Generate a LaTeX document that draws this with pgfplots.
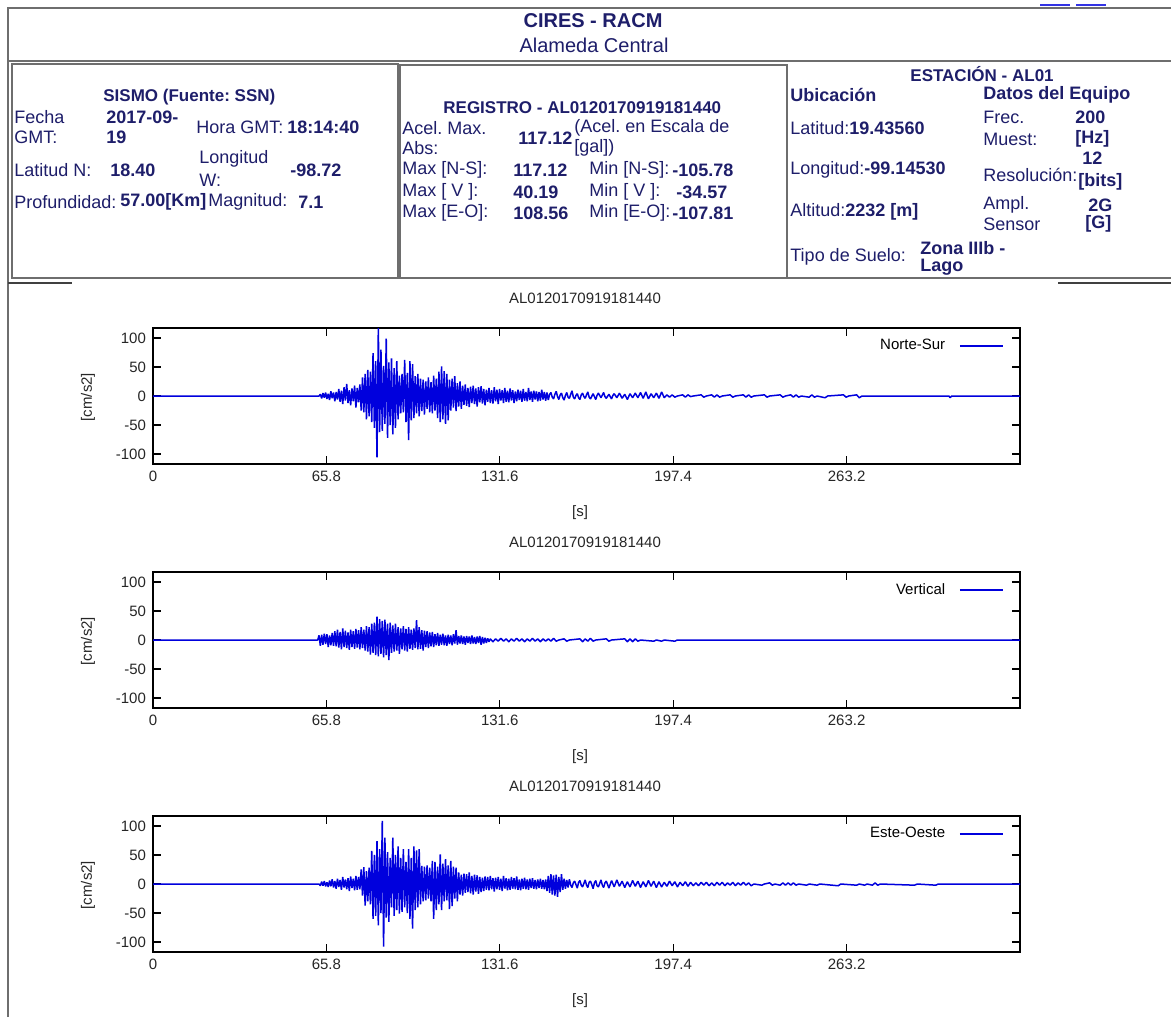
\documentclass[border=0pt]{standalone}
\usepackage{fontspec}
\setmainfont{Liberation Sans}
\usepackage{pgfplots}
\pgfplotsset{compat=1.18}
\definecolor{navy}{HTML}{1E1E6A}
\definecolor{trace}{HTML}{0000DD}
\definecolor{frame}{HTML}{6E6E6E}
\tikzset{
  hd/.style={anchor=west, inner sep=0pt, text=navy, font=\fontsize{9}{10}\selectfont},
  hb/.style={hd, font=\fontsize{9}{10}\selectfont\bfseries},
  hs/.style={hd, font=\fontsize{8.5}{10}\selectfont\bfseries},
  pl/.style={inner sep=0pt, text=black!85, font=\fontsize{7.5}{9}\selectfont},
}
\pgfplotsset{
  seis/.style={
    scale only axis, width=433.5pt, height=68pt, anchor=south west,
    xmin=0, xmax=329, ymin=-117.12, ymax=117.12,
    xtick={0,65.8,131.6,197.4,263.2}, xticklabels={0,65.8,131.6,197.4,263.2},
    ytick={-100,-50,0,50,100},
    tick align=inside, major tick length=4pt,
    axis line style={line width=0.65pt},
    tick style={line width=0.6pt, black},
    tick label style={font=\fontsize{7.5}{9}\selectfont, text=black!85},
    /pgf/number format/assume math mode=true,
    legend plot pos=right, legend cell align=right,
    legend image code/.code={\draw[##1] (0pt,0pt) -- (21.5pt,0pt);},
    legend style={at={(rel axis cs:0.984,0.965)}, anchor=north east, draw=none, fill=none,
      font=\fontsize{7.5}{9}\selectfont, inner sep=1pt, column sep=5pt},
  },
  tr/.style={trace, line width=0.75pt, line join=bevel},
}
\begin{document}
\frenchspacing
\begin{tikzpicture}
\begin{scope}[x=0.5pt, y=-0.5pt]
\fill[white] (0,0) rectangle (1171,1017);
\path[use as bounding box] (0,0) rectangle (1171,1017);
% frames
\draw[frame, line width=1.4pt] (8,1017) -- (8,8) -- (1171,8);
\draw[frame, line width=1.4pt] (8,61) -- (1171,61);
\draw[frame, line width=1.1pt] (12,64) rectangle (398,278);
\draw[frame, line width=1.1pt] (400,65) rectangle (787,278);
\draw[frame, line width=1.1pt] (787,278) -- (1171,278);
\draw[black!75, line width=1.3pt] (8,283) -- (72,283);
\draw[black!75, line width=1.3pt] (1058,283) -- (1171,283);
\draw[trace!80!white, line width=1pt] (1040,5) -- (1070,5) (1076,5) -- (1106,5);
% title
\node[hb, anchor=center, font=\fontsize{10}{12}\selectfont\bfseries] at (593,21) {CIRES - RACM};
\node[hd, anchor=center, font=\fontsize{10}{12}\selectfont] at (594,45) {Alameda Central};
% sismo
\node[hs] at (103,97) {SISMO (Fuente: SSN)};
\node[hd] at (14,117) {Fecha};
\node[hd] at (14,137) {GMT:};
\node[hb] at (106,117) {2017-09-};
\node[hb] at (106,137) {19};
\node[hd] at (196,127) {Hora GMT:};
\node[hb] at (287,127) {18:14:40};
\node[hd] at (14,170) {Latitud N:};
\node[hb] at (110,170) {18.40};
\node[hd] at (199,159) {Longitud};
\node[hd] at (199,180) {W:};
\node[hb] at (290,170) {-98.72};
\node[hd] at (14,202) {Profundidad:};
\node[hb] at (120,202) {57.00[Km]};
\node[hd] at (208,202) {Magnitud:};
\node[hb] at (298,202) {7.1};
% registro
\node[hs] at (443,108) {REGISTRO - AL0120170919181440};
\node[hd] at (402,128) {Acel. Max.};
\node[hd] at (402,148) {Abs:};
\node[hb] at (518,138) {117.12};
\node[hd] at (574,128) {(Acel. en Escala de};
\node[hd] at (574,148) {[gal])};
\node[hd] at (402,170) {Max [N-S]:};
\node[hb] at (513,170) {117.12};
\node[hd] at (589,170) {Min [N-S]:};
\node[hb] at (672,170) {-105.78};
\node[hd] at (402,192) {Max [ V ]:};
\node[hb] at (513,192) {40.19};
\node[hd] at (589,192) {Min [ V ]:};
\node[hb] at (676,192) {-34.57};
\node[hd] at (402,213) {Max [E-O]:};
\node[hb] at (513,213) {108.56};
\node[hd] at (589,213) {Min [E-O]:};
\node[hb] at (672,213) {-107.81};
% estacion
\node[hs] at (910,74) {ESTACIÓN - AL01};
\node[hb] at (790,95) {Ubicación};
\node[hb] at (983,95) {Datos del Equipo};
\node[hd] at (790,128) {Latitud:\textbf{19.43560}};
\node[hd] at (983,117) {Frec.};
\node[hd] at (983,139) {Muest:};
\node[hb] at (1075,117) {200};
\node[hb] at (1075,139) {[Hz]};
\node[hd] at (790,170) {Longitud:\textbf{-99.14530}};
\node[hd] at (983,175) {Resolución:};
\node[hb] at (1082,158) {12};
\node[hb] at (1078,182) {[bits]};
\node[hd] at (790,212) {Altitud:\textbf{2232 [m]}};
\node[hd] at (983,205) {Ampl.};
\node[hd] at (983,224) {Sensor};
\node[hb] at (1088,205) {2G};
\node[hb] at (1085,224) {[G]};
\node[hd] at (790,257) {Tipo de Suelo:};
\node[hb] at (920,248) {Zona IIIb -};
\node[hb] at (920,267) {Lago};
% plot texts
\foreach \dy in {0,244,488} {
  \node[pl] at (585,298+\dy) {AL0120170919181440};
  \node[pl] at (580,513+\dy) {[s]};
  \node[pl, rotate=90] at (88,397+\dy) {[cm/s2]};
}
\end{scope}

% Norte-Sur
\begin{axis}[seis, at={(76.5pt,-232pt)}]
\addplot[tr] coordinates {
(0,0)(63,0)
(63.5,3)(64,-4)(64.5,5)(65,-3)(65.5,6)(66,-5)(66.5,4)(67,-7)(67.5,8)(68,-4)(68.5,6)(69,-9)(69.5,7)(70,-6)
(70.5,12)(71,-10)(71.5,9)(72,-14)(72.5,15)(73,-8)(73.5,21)(74,-12)(74.5,10)(75,-16)(75.5,13)(76,-9)(76.5,18)(77,-20)
(77.5,14)(78,-11)(78.5,20)(79,-25)(79.5,32)(80,-28)(80.5,38)(81,-40)(81.5,45)(82,-35)(82.5,42)(83,-45)(83.5,74)(84,-55)
(84.5,60)(85,-105.78)(85.5,117.12)(86,-62)(86.5,80)(87,-60)(87.5,52)(88,-48)(88.5,99)(89,-72)(89.5,58)(90,-50)(90.5,65)(91,-66)
(91.5,48)(92,-55)(92.5,60)(93,-40)(93.5,35)(94,-30)(94.5,38)(95,-28)(95.5,62)(96,-45)(96.5,40)(97,-76)(97.5,60)(98,-42)
(98.5,55)(99,-38)(99.5,34)(100,-30)(100.5,38)(101,-35)(101.5,30)(102,-26)(102.5,28)(103,-32)(103.5,25)(104,-22)(104.5,32)(105,-28)
(105.5,24)(106,-30)(106.5,35)(107,-25)(107.5,30)(108,-38)(108.5,42)(109,-45)(109.5,51)(110,-40)(110.5,43)(111,-48)(111.5,38)(112,-42)
(112.5,28)(113,-25)(113.5,30)(114,-20)(114.5,34)(115,-26)(115.5,22)(116,-18)(116.5,25)(117,-22)(117.5,18)(118,-15)(118.5,20)(119,-17)
(119.5,14)(120,-19)(120.5,16)(121,-12)(121.5,18)(122,-14)(122.5,13)(123,-18)(123.5,15)(124,-11)(124.5,17)(125,-13)(125.5,12)(126,-16)
(126.5,11)(127,-10)(127.5,14)(128,-12)(128.5,10)(129,-13)(129.5,15)(130,-9)(130.5,11)(131,-14)(131.5,12)(132,-8)(132.5,10)(133,-12)
(133.5,14)(134,-10)(134.5,9)(135,-11)(135.5,13)(136,-8)(136.5,10)(137,-12)(137.5,8)(138,-9)(138.5,11)(139,-7)(139.5,9)(140,-10)
(140.5,12)(141,-8)(141.5,7)(142,-9)(142.5,14)(143,-7)(143.5,8)(144,-10)(144.5,9)(145,-6)(145.5,8)(146,-9)(146.5,7)(147,-8)
(147.5,11)(148,-6)(148.5,7)(149,-8)(149.5,6)(150,-7)
(150.5,3)(151,6)(151.5,-2)(152,-5)(152.5,3)(153,8)(153.5,-1)(154,-6)(154.5,2)(155,5)(155.5,-3)(156,-7)(156.5,1)(157,6)(157.5,-2)(158,-4)
(158.5,3)(159,9)(159.5,-2)(160,-5)(160.5,1)(161,4)(161.5,-3)(162,-6)(162.5,2)(163,5)(163.5,-1)(164,-4)(164.5,2)(165,7)(165.5,-2)(166,-5)
(167,4)(168,-6)(168.5,1)(169,5)(170,-3)(171,6)(171.5,-1)(172,-4)(173,3)(174,-5)(174.5,1)(175,4)(176,-3)(177,5)(178,-4)(179,3)(180,-6)(181,4)(182,-3)
(183,5)(184,-3)(185,6)(186,-4)(187,7)(188,-5)(189,4)(190,-3)(191,5)(192,-4)(193,7)(194,-3)
(195,2)(196,-2)(197,2)(198,-2)(199,0)(201,2)(202,-2)(203,2)(204,-1)(205,0)(208,2)(209,-2)(210,0)(212,2)(213,-2)(214,2)(215,-2)
(216,0)(219,2)(220,-2)(221,0)(224,2)(225,-2)(226,2)(227,-2)(228,0)(232,2)(233,-2)(234,0)(238,2)(239,-2)(240,0)
(242,2)(243,-2)(244,2)(245,-2)(246,0)(249,-2)(250,2)(251,-2)(252,0)(255,-3)(256,0)(262,2)(263,-2)(264,0)(267,2)(268,-3)(269,0)
(302,0)(302.5,-3)(303,0)(329,0)
};
\addlegendentry{Norte-Sur}
\end{axis}

% Vertical
\begin{axis}[seis, at={(76.5pt,-354pt)}]
\addplot[tr] coordinates {
(0,0)(62.5,0)
(63,8)(63.5,-10)(64,9)(64.5,-8)(65,11)(65.5,-7)(66,10)(66.5,-12)(67,8)(67.5,-9)(68,12)(68.5,-10)(69,15)(69.5,-11)
(70,18)(70.5,-13)(71,14)(71.5,-16)(72,20)(72.5,-12)(73,16)(73.5,-14)(74,13)(74.5,-17)(75,18)(75.5,-12)(76,15)(76.5,-15)
(77,19)(77.5,-13)(78,17)(78.5,-16)(79,22)(79.5,-14)(80,18)(80.5,-18)(81,24)(81.5,-20)(82,22)(82.5,-25)(83,28)(83.5,-22)
(84,30)(84.5,-26)(85,40.19)(85.5,-28)(86,36)(86.5,-24)(87,33)(87.5,-30)(88,35)(88.5,-26)(89,28)(89.5,-34.57)(90,30)(90.5,-22)
(91,25)(91.5,-20)(92,28)(92.5,-18)(93,22)(93.5,-24)(94,20)(94.5,-16)(95,24)(95.5,-18)(96,19)(96.5,-20)(97,22)(97.5,-15)
(98,18)(98.5,-17)(99,20)(99.5,-14)(100,34)(100.5,-16)(101,22)(101.5,-15)(102,17)(102.5,-18)(103,16)(103.5,-12)(104,15)(104.5,-14)
(105,13)(105.5,-11)(106,14)(106.5,-12)(107,10)(107.5,-9)(108,12)(108.5,-10)(109,9)(109.5,-8)(110,11)(110.5,-9)(111,8)(111.5,-10)
(112,9)(112.5,-7)(113,8)(113.5,-9)(114,10)(114.5,-6)(115,17)(115.5,-8)(116,7)(116.5,-6)(117,8)(117.5,-7)(118,6)(118.5,-8)
(119,7)(119.5,-5)(120,6)(120.5,-7)(121,8)(121.5,-6)(122,5)(122.5,-7)(123,6)(123.5,-5)(124,7)(124.5,-8)(125,5)(125.5,-6)
(126,4)(126.5,-5)(127,3)(127.5,-3)
(128,2)(129,-3)(130,2)(131,-2)(132,3)(133,-2)(134,2)(135,-3)(136,2)(137,-2)(138,3)(139,-2)(140,2)(141,-3)(142,2)(143,-2)
(144,3)(145,-2)(146,2)(147,-3)(148,2)(149,-2)(150,2)(151,-2)(152,3)(153,-2)(154,0)(156,2)(157,-2)(158,0)
(162,2)(163,-3)(164,2)(165,-2)(166,3)(167,-2)(168,0)(172,2)(173,-2)(174,0)
(179,2)(180,-3)(181,2)(182,-3)(183,2)(184,-2)(185,0)(190,-2)(191,0)(193,-2)(194,0)(198,-2)(199,0)(329,0)
};
\addlegendentry{Vertical}
\end{axis}

% Este-Oeste
\begin{axis}[seis, at={(76.5pt,-476pt)}]
\addplot[tr] coordinates {
(0,0)(63,0)
(63.5,-3)(64,4)(64.5,-3)(65,5)(65.5,-4)(66,3)(66.5,-5)(67,6)(67.5,-4)(68,8)(68.5,-6)(69,5)(69.5,-8)(70,9)
(70.5,-5)(71,7)(71.5,-10)(72,12)(72.5,-6)(73,8)(73.5,-9)(74,10)(74.5,-12)(75,13)(75.5,-7)(76,9)(76.5,-11)(77,14)
(77.5,-10)(78,12)(78.5,-9)(79,25)(79.5,-20)(80,29)(80.5,-37)(81,22)(81.5,-30)(82,28)(82.5,-35)(83,57)(83.5,-60)(84,50)
(84.5,-55)(85,74)(85.5,-71)(86,60)(86.5,-50)(87,108.56)(87.5,-107.81)(88,80)(88.5,-58)(89,55)(89.5,-65)(90,45)(90.5,-40)(91,80)
(91.5,-55)(92,50)(92.5,-45)(93,65)(93.5,-51)(94,45)(94.5,-48)(95,60)(95.5,-40)(96,38)(96.5,-50)(97,60)(97.5,-60)(98,45)
(98.5,-77)(99,65)(99.5,-45)(100,58)(100.5,-40)(101,60)(101.5,-35)(102,31)(102.5,-30)(103,30)(103.5,-28)(104,32)(104.5,-25)(105,28)
(105.5,-30)(106,40)(106.5,-60)(107,38)(107.5,-45)(108,30)(108.5,-35)(109,51)(109.5,-45)(110,35)(110.5,-30)(111,43)(111.5,-28)(112,32)
(112.5,-43)(113,40)(113.5,-38)(114,30)(114.5,-25)(115,28)(115.5,-30)(116,20)(116.5,-18)(117,16)(117.5,-20)(118,18)(118.5,-15)(119,17)
(119.5,-14)(120,20)(120.5,-16)(121,14)(121.5,-18)(122,16)(122.5,-13)(123,15)(123.5,-17)(124,12)(124.5,-14)(125,11)(125.5,-12)(126,13)
(126.5,-10)(127,12)(127.5,-11)(128,14)(128.5,-9)(129,10)(129.5,-13)(130,11)(130.5,-9)(131,12)(131.5,-10)(132,9)(132.5,-12)(133,14)
(133.5,-8)(134,10)(134.5,-11)(135,9)(135.5,-10)(136,12)(136.5,-8)(137,10)(137.5,-9)(138,13)(138.5,-10)(139,8)(139.5,-11)(140,9)
(140.5,-8)(141,11)(141.5,-9)(142,8)(142.5,-10)(143,9)(143.5,-7)(144,10)(144.5,-8)(145,7)(145.5,-9)(146,8)(146.5,-7)(147,9)
(147.5,-8)(148,7)(148.5,-9)(149,8)(149.5,-12)(150,14)(150.5,-15)(151,17)(151.5,-18)(152,15)(152.5,-20)(153,16)(153.5,-22)(154,12)
(154.5,-14)(155,17)(155.5,-10)(156,9)(156.5,-8)(157,7)(157.5,-6)
(158,8)(158.5,-2)(159,-6)(159.5,2)(160,5)(160.5,-1)(161,-7)(161.5,3)(162,6)(162.5,-2)(163,-5)(163.5,1)(164,7)(164.5,-2)(165,-6)(165.5,3)
(166,5)(166.5,-1)(167,-8)(167.5,2)(168,6)(168.5,-3)(169,-5)(169.5,1)(170,7)(170.5,-2)(171,-6)(171.5,2)(172,5)(172.5,-1)(173,-7)
(174,6)(175,-5)(176,7)(177,-4)(178,5)(179,-6)(180,4)(181,-5)(182,6)(183,-4)(184,5)(185,-6)(186,4)(187,-5)(188,6)(189,-4)
(190,5)(191,-6)(192,4)(193,-5)(194,3)(195,-4)(196,5)(197,-3)(198,4)(199,-5)(200,3)(201,-3)(202,4)(203,-4)(204,3)(205,-3)
(206,2)(207,-3)(208,3)(209,-2)(210,3)(211,-3)(212,2)(213,-3)(214,3)(215,-2)(216,3)(217,-3)(218,2)(219,-2)(220,3)(221,-3)
(222,2)(223,-2)(224,3)(225,-2)(226,2)(227,-3)(228,0)
(231,-2)(232,0)(234,2)(235,-2)(236,0)(238,-2)(239,2)(240,-2)(241,2)(242,-2)(243,2)(244,-2)(245,0)(248,-2)(249,0)
(252,-2)(253,0)(260,-3)(261,0)(267,-2)(268,0)(270,-2)(271,0)(273,-2)(274,2)(275,-2)(276,0)(289,-2)(290,0)(297,-2)(298,0)(329,0)
};
\addlegendentry{Este-Oeste}
\end{axis}
\end{tikzpicture}
\end{document}
